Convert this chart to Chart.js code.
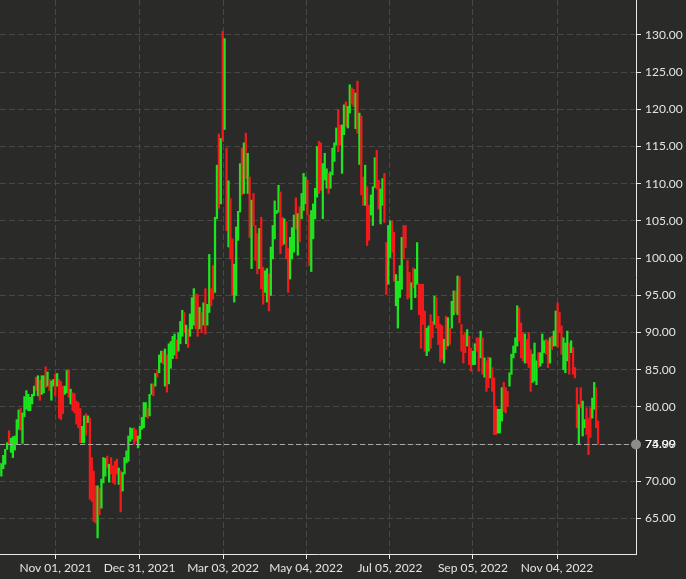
<!DOCTYPE html>
<html>
<head>
<meta charset="utf-8">
<script src="https://cdn.jsdelivr.net/npm/chart.js@4.4.1/dist/chart.umd.min.js"></script>
<style>
  html, body { margin: 0; padding: 0; background: #2a2b29; }
  canvas { display: block; }
</style>
</head>
<body>
<canvas id="oilChart" width="686" height="579"></canvas>
<script>
// daily bars, one per trading day (index 0 = late Sep 2021)
const lows = [
  70.7,71.7,72.3,74.3,75.0,73.9,73.2,74.2,75.0,77.0,
  76.9,75.1,78.7,79.7,79.5,79.5,80.4,81.5,82.2,81.5,
  80.9,81.7,81.9,82.6,82.8,82.2,80.9,82.8,81.5,82.8,
  78.5,78.3,79.1,81.7,81.9,81.3,80.4,79.5,79.2,77.7,
  77.2,75.2,75.2,75.2,76.2,77.9,67.6,67.3,64.6,64.4,
  62.4,65.5,66.4,69.8,70.7,71.8,69.9,71.0,69.8,69.6,
  71.0,69.6,65.9,68.7,71.0,72.5,72.7,75.4,75.7,75.0,
  75.4,74.5,75.7,77.0,77.2,78.7,78.5,78.8,81.7,81.5,
  82.8,84.0,84.6,86.0,85.8,82.8,82.0,83.1,85.2,86.5,
  87.0,86.5,87.5,88.5,89.5,90.0,88.5,88.0,89.5,90.5,
  91.0,90.5,89.5,90.5,90.0,91.0,89.8,91.0,92.7,93.6,
  94.5,95.4,105.3,106.7,107.3,115.7,117.3,103.7,101.5,99.9,
  95.0,94.1,95.0,102.4,106.2,108.5,108.7,110.7,108.7,102.8,
  98.6,104.4,99.7,97.9,98.6,95.9,93.8,95.4,94.1,92.9,
  95.0,99.9,102.6,106.0,106.2,100.6,101.7,101.9,99.9,95.4,
  97.2,99.9,100.8,103.9,100.4,102.2,105.3,106.4,107.3,105.8,
  99.0,98.2,102.6,105.3,108.2,108.7,109.1,105.3,110.5,109.4,
  108.7,109.4,111.2,113.0,115.2,114.3,115.2,111.4,116.6,117.7,
  117.5,119.5,120.7,120.4,117.4,116.8,112.6,108.5,107.1,107.1,
  101.7,102.4,105.8,104.4,109.5,109.3,106.6,104.6,107.1,104.8,
  95.1,96.5,100.1,100.8,96.9,93.6,90.6,94.7,95.8,99.9,
  101.4,94.5,94.7,93.1,96.0,94.7,96.5,92.4,87.9,91.1,
  87.5,86.9,87.5,87.9,89.3,91.1,90.6,88.4,86.1,86.4,
  85.9,87.7,88.2,88.4,90.6,92.4,92.7,92.4,91.3,87.5,
  85.9,87.3,88.2,85.7,84.8,85.7,85.7,87.5,84.8,86.6,
  84.4,84.0,82.1,82.6,83.9,82.1,76.3,76.3,76.5,76.5,
  78.1,79.4,79.2,80.1,82.8,84.4,86.6,87.3,88.2,88.9,
  86.6,86.2,85.9,85.9,85.3,82.1,83.3,83.5,83.0,85.3,
  85.5,85.9,87.3,87.1,85.3,85.9,87.7,88.2,88.2,88.0,
  90.0,87.1,85.0,84.6,86.2,84.4,87.3,84.4,83.9,77.2,
  75.0,79.9,76.1,77.2,76.3,73.6,75.9,78.5,79.7,77.2,75.0
];
const highs = [
  72.4,73.5,74.3,75.2,76.8,75.8,76.0,76.1,78.3,79.6,
  79.8,79.2,81.4,82.2,81.7,81.3,81.7,82.8,84.0,84.2,
  83.6,84.2,84.2,85.4,84.7,83.7,83.5,83.7,84.4,84.5,
  83.7,83.4,82.8,82.8,84.9,85.0,82.4,81.9,81.8,80.8,
  80.6,79.8,77.4,78.8,79.1,78.8,78.5,73.2,71.4,69.4,
  69.4,69.1,70.3,73.2,73.1,73.4,72.3,73.2,72.1,72.7,
  73.0,71.8,71.4,71.2,73.2,74.1,76.1,77.2,77.1,77.2,
  76.9,76.1,77.4,78.6,80.6,80.6,79.8,81.7,83.1,83.1,
  84.5,84.9,87.0,87.5,87.5,87.8,87.0,88.5,88.8,89.5,
  89.8,89.0,90.0,91.5,93.0,92.7,91.0,90.5,92.5,94.7,
  95.9,95.2,95.1,93.4,92.7,94.0,95.9,93.8,100.5,95.9,
  99.0,105.5,112.5,116.7,116.1,130.5,129.5,114.8,110.4,108.0,
  102.6,99.2,104.2,106.3,112.7,114.8,115.5,116.8,114.1,110.9,
  107.8,108.7,104.4,103.3,104.0,105.5,98.8,98.3,98.6,97.9,
  101.5,104.4,107.7,106.4,109.8,108.9,105.5,105.3,104.9,101.3,
  102.8,104.1,105.8,108.1,106.0,106.9,108.7,111.4,110.9,110.5,
  105.8,106.4,107.3,109.4,115.0,115.7,115.5,112.7,114.1,112.0,
  111.4,111.6,114.8,115.5,117.5,120.0,117.9,117.9,120.6,121.0,
  120.4,123.3,122.9,122.7,122.2,123.8,119.5,119.1,110.9,112.5,
  109.6,107.1,108.5,109.6,113.5,114.5,110.5,109.3,110.7,111.4,
  102.1,104.4,105.0,105.0,103.5,97.8,96.9,99.0,102.8,104.4,
  104.4,99.7,98.1,96.7,98.7,98.5,102.1,96.5,96.5,96.5,
  92.9,90.6,90.9,92.4,91.5,94.9,94.7,92.2,91.1,90.9,
  89.1,92.2,92.0,90.6,94.2,95.6,95.6,97.6,97.5,91.1,
  89.7,90.0,90.4,89.5,87.9,87.5,88.5,89.3,89.3,90.2,
  89.3,86.6,86.2,86.7,86.6,85.3,83.9,80.1,79.7,79.7,
  82.6,83.3,82.6,82.1,84.6,87.1,88.2,89.3,93.6,93.3,
  91.3,90.0,89.8,89.1,90.0,87.7,87.1,88.6,86.2,87.3,
  87.3,89.8,88.9,89.1,88.9,89.3,89.5,90.2,92.9,94.0,
  92.7,90.9,89.3,88.6,90.2,88.6,88.9,88.0,85.3,82.6,
  80.3,82.6,80.8,78.3,79.9,78.5,79.9,81.2,83.3,82.6,78.1
];
// 1 = up day (green), 0 = down day (red)
const up = [
  1,1,1,1,0,1,1,1,1,1, 0,1,1,1,1,1,1,1,0,1, 0,1,1,0,1,0,1,1,0,1,
  0,0,0,1,1,0,1,0,0,0, 0,0,1,1,0,1,0,0,0,0, 1,0,1,1,1,0,1,0,0,0,
  0,1,0,1,1,1,1,1,1,0, 0,1,1,1,1,1,0,1,1,0, 1,0,1,1,0,1,0,1,1,1,
  1,0,1,1,1,0,1,0,1,1, 1,0,0,1,0,1,0,1,1,0, 0,1,1,0,1,0,1,0,1,0,
  0,1,1,1,1,0,1,0,1,0, 1,0,0,0,1,0,0,1,1,0, 1,1,1,1,1,0,0,1,0,0,
  1,1,1,0,1,0,1,1,1,0, 0,1,1,1,1,0,0,1,1,1, 0,1,1,1,1,0,0,1,1,0,
  1,1,0,0,1,0,1,0,0,1, 0,0,1,1,1,0,0,1,1,0, 0,1,1,0,0,1,1,1,1,0,
  0,0,0,1,0,1,1,0,0,0, 0,1,1,0,0,1,0,0,0,0, 1,0,1,0,1,1,0,1,0,0,
  0,0,1,0,0,1,1,0,0,1, 0,1,0,0,1,0,0,0,1,1, 1,0,0,0,1,1,1,1,1,0,
  0,0,1,0,0,0,1,1,1,0, 1,1,1,0,0,1,0,1,1,0, 0,0,1,1,1,0,1,0,0,0,
  1,0,1,1,0,0,0,1,1,0,0
];
const lastClose = 74.99;

// x tick positions (bar index) and their labels
const xTickIdx = [28.2, 71.8, 115.2, 158.3, 201.9, 245.0, 288.7];
const xTickLabels = ['Nov 01, 2021', 'Dec 31, 2021', 'Mar 03, 2022', 'May 04, 2022', 'Jul 05, 2022', 'Sep 05, 2022', 'Nov 04, 2022'];
const yTicks = [65, 70, 75, 80, 85, 90, 95, 100, 105, 110, 115, 120, 125, 130];

const GREEN = '#1ee61e';
const RED = '#f21a1a';
const TEXT = '#e4e4e4';

const bars = lows.map((l, i) => ({ x: i, y: [l, highs[i]] }));

const bgPlugin = {
  id: 'bg',
  beforeDraw(chart) {
    const ctx = chart.ctx;
    ctx.save();
    ctx.fillStyle = '#2a2b29';
    ctx.fillRect(0, 0, chart.width, chart.height);
    ctx.restore();
  }
};

// dashed last-price line with marker and label
const priceLine = {
  id: 'priceLine',
  afterDatasetsDraw(chart) {
    const { ctx, chartArea, scales } = chart;
    const y = Math.round(scales.y.getPixelForValue(lastClose)) + 0.5;
    ctx.save();
    ctx.strokeStyle = '#a9a9a9';
    ctx.lineWidth = 1;
    ctx.setLineDash([5, 3]);
    ctx.beginPath();
    ctx.moveTo(chartArea.left, y);
    ctx.lineTo(chartArea.right, y);
    ctx.stroke();
    ctx.setLineDash([]);
    ctx.fillStyle = '#8c8c8c';
    ctx.beginPath();
    ctx.arc(chartArea.right, y, 5, 0, Math.PI * 2);
    ctx.fill();
    ctx.fillStyle = '#ffffff';
    ctx.font = '12px Lato';
    ctx.textBaseline = 'middle';
    ctx.fillText(lastClose.toFixed(2), chartArea.right + 9, y);
    ctx.restore();
  }
};

const noPad = (scale) => {
  scale.paddingTop = 0;
  scale.paddingBottom = 0;
  scale.paddingLeft = 0;
  scale.paddingRight = 0;
};

const config = {
  type: 'bar',
  data: {
    datasets: [{
      data: bars,
      backgroundColor: up.map(u => u ? GREEN : RED),
      borderWidth: 0,
      borderSkipped: false,
      barThickness: 1.6
    }]
  },
  options: {
    responsive: false,
    animation: false,
    devicePixelRatio: 1,
    layout: { padding: 0 },
    plugins: {
      legend: { display: false },
      tooltip: { enabled: false }
    },
    scales: {
      x: {
        type: 'linear',
        min: -0.7,
        max: 329.7,
        offset: false,
        afterBuildTicks: (scale) => { scale.ticks = xTickIdx.map(v => ({ value: v })); },
        afterFit: (scale) => { scale.height = 25; noPad(scale); },
        ticks: {
          color: TEXT,
          font: { family: 'Lato', size: 12 },
          padding: 2,
          maxRotation: 0,
          autoSkip: false,
          callback: (v, i) => xTickLabels[i]
        },
        grid: { offset: false, color: '#474846', lineWidth: 1, tickColor: '#e8e8e8', tickLength: 5 },
        border: { color: '#e8e8e8', width: 1, dash: [6, 3] }
      },
      y: {
        position: 'right',
        min: 60.24,
        max: 134.7,
        afterBuildTicks: (scale) => { scale.ticks = yTicks.map(v => ({ value: v })); },
        afterFit: (scale) => { scale.width = 50; noPad(scale); },
        ticks: {
          color: TEXT,
          font: { family: 'Lato', size: 12 },
          padding: 4,
          callback: v => v.toFixed(2)
        },
        grid: { color: '#474846', lineWidth: 1, tickColor: '#e8e8e8', tickLength: 5 },
        border: { color: '#e8e8e8', width: 1, dash: [6, 3] }
      }
    }
  },
  plugins: [bgPlugin, priceLine]
};

const oilChart = new Chart(document.getElementById('oilChart').getContext('2d'), config);
</script>
</body>
</html>
